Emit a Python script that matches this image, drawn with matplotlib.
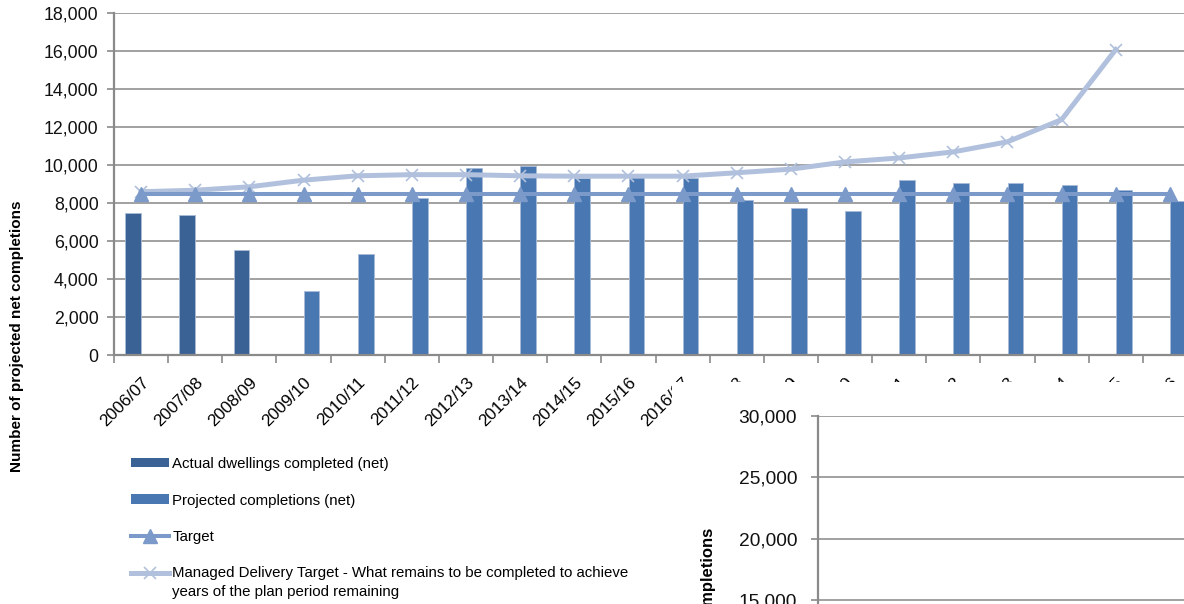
import matplotlib
matplotlib.use("Agg")
import matplotlib.pyplot as plt
import numpy as np
from matplotlib.patches import Rectangle, Patch
from matplotlib.lines import Line2D
from matplotlib.legend_handler import HandlerLine2D
from matplotlib.transforms import Bbox, TransformedBbox
from matplotlib.ticker import FuncFormatter

plt.rcParams['font.family'] = ['Liberation Sans', 'DejaVu Sans']

years = ["2006/07", "2007/08", "2008/09", "2009/10", "2010/11", "2011/12", "2012/13",
         "2013/14", "2014/15", "2015/16", "2016/17", "2017/18", "2018/19", "2019/20",
         "2020/21", "2021/22", "2022/23", "2023/24", "2024/25", "2025/26"]
actual = [7490, 7350, 5530, 0, 0, 0, 0, 0, 0, 0, 0, 0, 0, 0, 0, 0, 0, 0, 0, 0]
projected = [0, 0, 0, 3390, 5320, 8250, 9830, 9960, 9320, 9560, 9350, 8160, 7750,
             7600, 9210, 9070, 9070, 8950, 8680, 8100]
target = [8500] * 20
managed = [8600, 8680, 8860, 9210, 9440, 9500, 9500, 9440, 9420, 9420, 9420, 9600,
           9790, 10170, 10380, 10700, 11230, 12400, 16090, np.nan]

C_ACT = "#3b6295"
C_PROJ = "#4877b1"
C_TGT = "#7b99c9"
C_MDT = "#b1c1dd"
GRID = "#9a9a9a"

W, H = 1184, 604
fig = plt.figure(figsize=(W / 100, H / 100), dpi=100)

def fx(px):
    return px / W

def fy(py):
    return 1 - py / H

ax = fig.add_axes([fx(114), fy(355), fx(1197 - 114), (355 - 13.3) / H], zorder=0)
x = np.arange(len(years))
bw = 0.29
ax.bar(x - 0.148, actual, width=bw, color=C_ACT, edgecolor="#a9bcd6", linewidth=0.6, zorder=2)
ax.bar(x + 0.148, projected, width=bw, color=C_PROJ, edgecolor="#a9bcd6", linewidth=0.6, zorder=2)
ax.plot(x, managed, color=C_MDT, lw=3.6, marker="x", markersize=9, markeredgewidth=1.2,
        markeredgecolor=C_MDT, zorder=3)
ax.plot(x, target, color=C_TGT, lw=2.9, marker="^", markersize=10.5, markeredgecolor=C_TGT, zorder=4)

ax.set_xlim(-0.5, len(years) - 0.5)
ax.set_ylim(0, 18000)
ax.set_yticks(np.arange(0, 18001, 2000))
ax.yaxis.set_major_formatter(FuncFormatter(lambda v, p: f"{int(v):,}"))
ax.grid(axis="y", color=GRID, lw=1.3, zorder=0)
ax.set_axisbelow(True)
for s in ["top", "right"]:
    ax.spines[s].set_visible(False)
for s in ["left", "bottom"]:
    ax.spines[s].set_color("#8a8a8a")
    ax.spines[s].set_linewidth(1.6)
ax.tick_params(axis="y", length=5, color="#8a8a8a", width=1.2, labelsize=12.8, pad=6, labelcolor="#111111")
ax.set_xticks(x)
ax.set_xticklabels(years, rotation=45, ha="right", va="top", rotation_mode="anchor", fontsize=12.3)
ax.tick_params(axis="x", which="major", length=0, pad=14)
ax.set_xticks(np.arange(-0.5, len(years) - 0.4, 1), minor=True)
ax.tick_params(axis="x", which="minor", length=6, color="#8a8a8a", width=1.2)


class HandlerLineUp(HandlerLine2D):
    def __init__(self, shift=0, **kw):
        super().__init__(**kw)
        self.shift = shift

    def create_artists(self, legend, orig_handle, xdescent, ydescent, width, height, fontsize, trans):
        arts = super().create_artists(legend, orig_handle, xdescent, ydescent, width, height, fontsize, trans)
        for a in arts:
            a.set_ydata(np.asarray(a.get_ydata(), dtype=float) + self.shift)
        return arts


handles = [
    Patch(facecolor=C_ACT, edgecolor="none"),
    Patch(facecolor=C_PROJ, edgecolor="none"),
    Line2D([], [], color=C_TGT, lw=2.9, marker="^", markersize=10, markeredgecolor=C_TGT),
    Line2D([], [], color=C_MDT, lw=3.6, marker="x", markersize=9, markeredgewidth=1.2),
]
labels = ["Actual dwellings completed (net)", "Projected completions (net)", "Target",
          "Managed Delivery Target - What remains to be completed to achieve\nyears of the plan period remaining"]
leg = ax.legend(handles, labels, loc="upper left", bbox_to_anchor=(fx(131), fy(457)),
                bbox_transform=fig.transFigure, frameon=False, fontsize=10.8,
                handlelength=2.5, handleheight=0.6, handletextpad=0.25, labelspacing=1.5,
                borderaxespad=0, borderpad=0,
                handler_map={handles[3]: HandlerLineUp(shift=7.5)})
for t in leg.get_texts():
    t.set_linespacing(1.45)

fig.text(fx(17), fy(336), "Number of projected net completions", rotation=90,
         ha="center", va="center", fontsize=11, fontweight="bold")

# white panel of the second chart covering the lower right
rect = Rectangle((fx(672), 0), 1.0, (H - 382) / H, transform=fig.transFigure,
                 facecolor="white", edgecolor="none", zorder=2)
fig.add_artist(rect)

ax2 = fig.add_axes([fx(818), fy(784), fx(1200 - 818), (784 - 416) / H], zorder=3)
ax2.set_xlim(0, 1)
ax2.set_ylim(0, 30000)
ax2.set_yticks(np.arange(0, 30001, 5000))
ax2.yaxis.set_major_formatter(FuncFormatter(lambda v, p: f"{int(v):,}"))
ax2.grid(axis="y", color=GRID, lw=1.3)
ax2.set_xticks([])
for s in ["top", "right", "bottom"]:
    ax2.spines[s].set_visible(False)
ax2.spines["left"].set_color("#8a8a8a")
ax2.spines["left"].set_linewidth(1.6)
ax2.tick_params(axis="y", length=5, color="#8a8a8a", width=1.2, labelsize=13.8, pad=10, labelcolor="#111111")

t2 = fig.text(fx(708), fy(528), "Number of projected net completions", rotation=90,
              ha="center", va="top", fontsize=12, fontweight="bold", zorder=4)
t2.set_clip_box(TransformedBbox(Bbox([[fx(697), 0], [1, 1]]), fig.transFigure))
t2.set_clip_on(True)

fig.savefig("out.png", dpi=100)
